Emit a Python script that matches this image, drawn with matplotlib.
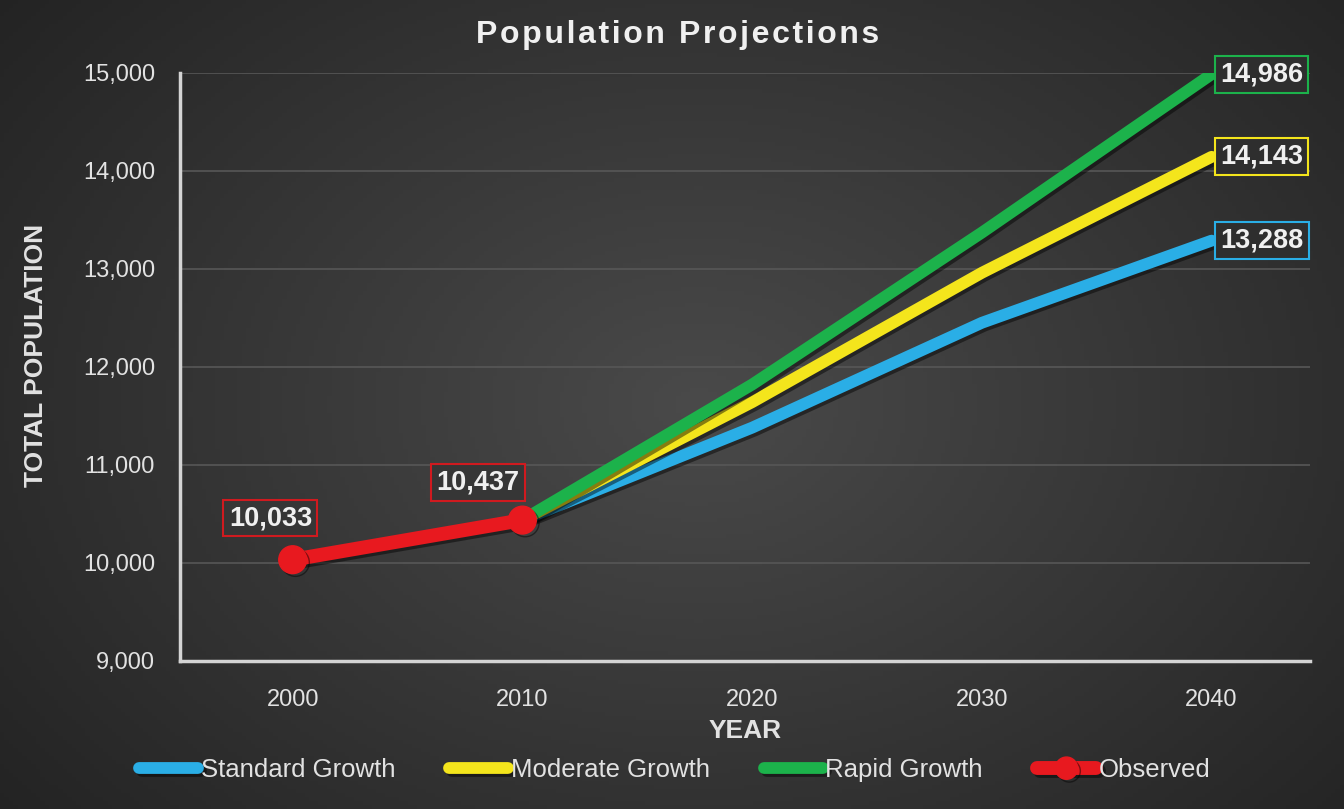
import matplotlib
matplotlib.use("Agg")
import matplotlib.pyplot as plt
import matplotlib.patheffects as pe
import numpy as np

years = ["2000", "2010", "2020", "2030", "2040"]
standard_growth = [None, 10437, 11380, 12450, 13288]
moderate_growth = [None, 10437, 11640, 12960, 14143]
rapid_growth = [None, 10437, 11820, 13370, 14986]
observed = [10033, 10437, None, None, None]
title = "Population Projections"

plt.rcParams["font.family"] = ["Liberation Sans", "DejaVu Sans"]

fig = plt.figure(figsize=(13.44, 8.09), dpi=100)

# dark radial background
bg = fig.add_axes([0, 0, 1, 1], zorder=-10)
yy, xx = np.mgrid[0:1:200j, 0:1:300j]
r = np.sqrt(((xx - 0.52) / 0.75) ** 2 + ((yy - 0.5) / 0.9) ** 2)
shade = np.clip(0.29 - 0.17 * r, 0.11, 0.3)
bg.imshow(np.dstack([shade] * 3), aspect="auto", extent=[0, 1, 0, 1])
bg.axis("off")

ax = fig.add_axes([0.134, 0.183, 0.841, 0.727])
ax.set_facecolor("none")

x = np.arange(len(years))
shadow = [pe.SimpleLineShadow(offset=(2, -2), alpha=0.45), pe.Normal()]


def to_arr(vals):
    return np.array([np.nan if v is None else v for v in vals], dtype=float)


series = [
    ("Standard Growth", standard_growth, "#2aaee6"),
    ("Moderate Growth", moderate_growth, "#f4e51c"),
    ("Rapid Growth", rapid_growth, "#1cb24b"),
]
for name, vals, color in series:
    ax.plot(x, to_arr(vals), color=color, linewidth=8.5, solid_capstyle="round",
            label=name, path_effects=shadow, zorder=3)

ax.plot(x, to_arr(observed), color="#e8191f", linewidth=10, marker="o",
        markersize=20, solid_capstyle="round", label="Observed",
        path_effects=shadow, zorder=4)

# data labels
label_kw = dict(color="#f0f0f0", fontsize=19.5, fontweight="bold",
                textcoords="offset points", zorder=6)
ax.annotate(f"{observed[0]:,}", (x[0], observed[0]), xytext=(-16, 30),
            ha="center", va="center",
            bbox=dict(boxstyle="square,pad=0.2", fc="#363636", ec="#d01a1f", lw=1.5),
            **label_kw)
ax.annotate(f"{observed[1]:,}", (x[1], observed[1]), xytext=(-32, 27),
            ha="center", va="center",
            bbox=dict(boxstyle="square,pad=0.2", fc="#363636", ec="#d01a1f", lw=1.5),
            **label_kw)
for name, vals, color in series:
    ax.annotate(f"{vals[-1]:,}", (x[-1], vals[-1]), xytext=(6, 0),
                ha="left", va="center",
                bbox=dict(boxstyle="square,pad=0.2", fc="#2e2e2e", ec=color, lw=1.5),
                **label_kw)

ax.set_xlim(-0.49, 4.43)
ax.set_ylim(9000, 15000)
ax.set_xticks(x)
ax.set_xticklabels(years)
ax.set_yticks(range(9000, 15001, 1000))
ax.yaxis.set_major_formatter(matplotlib.ticker.FuncFormatter(lambda v, p: f"{int(v):,}"))
ax.tick_params(axis="both", length=0, colors="#e2e2e2", labelsize=17)
ax.tick_params(axis="x", pad=20)
ax.tick_params(axis="y", pad=18)

ax.grid(axis="y", color="#575757", linewidth=1.2)
ax.set_axisbelow(True)
for side in ["top", "right"]:
    ax.spines[side].set_visible(False)
for side in ["left", "bottom"]:
    ax.spines[side].set_color("#d4d4d4")
    ax.spines[side].set_linewidth(2.5)

ax.set_xlabel("YEAR", color="#e2e2e2", fontsize=19, fontweight="bold")
ax.xaxis.set_label_coords(0.5, -0.098)
ax.set_ylabel("TOTAL POPULATION", color="#e2e2e2", fontsize=19, fontweight="bold")
ax.yaxis.set_label_coords(-0.117, 0.52)

# letter-spaced title
fig.text(0.504, 0.957, "\u200a".join(title), color="#f0f0f0", fontsize=23,
         fontweight="bold", ha="center", va="center")

leg = fig.legend(loc="center", bbox_to_anchor=(0.502, 0.048), ncol=4, frameon=False,
                 fontsize=18.5, handlelength=2.3, handletextpad=0.1, columnspacing=2.1,
                 numpoints=1, markerscale=0.8)
for t in leg.get_texts():
    t.set_color("#e2e2e2")

fig.savefig("out.png", dpi=100)
